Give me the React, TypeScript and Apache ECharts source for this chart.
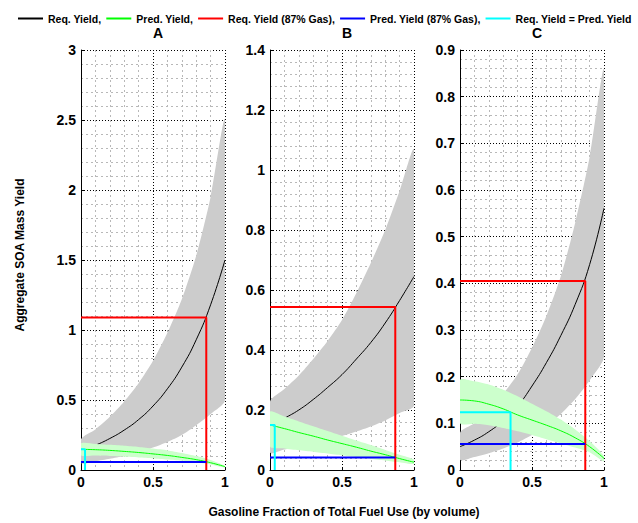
import React, { useEffect, useRef } from "react";
import * as echarts from "echarts";

// Gasoline fraction of total fuel use (x values of every curve)
const fraction = [0, 0.1, 0.2, 0.3, 0.4, 0.5, 0.6, 0.7, 0.8, 0.9, 1.0];

// Panel A
const reqA = [0.14, 0.177, 0.225, 0.285, 0.36, 0.457, 0.58, 0.735, 0.93, 1.18, 1.5];
const reqHiA = [0.22, 0.29, 0.38, 0.49, 0.62, 0.78, 0.98, 1.22, 1.53, 1.95, 2.5];
const reqLoA = [0.05, 0.063, 0.08, 0.1, 0.125, 0.16, 0.2, 0.25, 0.32, 0.4, 0.5];
const predA = [0.148, 0.145, 0.14, 0.133, 0.125, 0.115, 0.104, 0.09, 0.074, 0.052, 0.024];
const predHiA = [0.19, 0.186, 0.18, 0.173, 0.165, 0.153, 0.14, 0.122, 0.1, 0.072, 0.03];
const predLoA = [0.105, 0.103, 0.1, 0.095, 0.09, 0.083, 0.075, 0.066, 0.055, 0.04, 0.018];

// Panel B
const reqB = [0.143, 0.172, 0.2, 0.235, 0.275, 0.318, 0.37, 0.425, 0.49, 0.565, 0.645];
const reqHiB = [0.228, 0.27, 0.315, 0.37, 0.43, 0.5, 0.59, 0.69, 0.8, 0.93, 1.067];
const reqLoB = [0.058, 0.068, 0.078, 0.088, 0.1, 0.113, 0.128, 0.145, 0.165, 0.19, 0.215];
const predB = [0.15, 0.138, 0.125, 0.113, 0.1, 0.088, 0.076, 0.063, 0.051, 0.038, 0.026];
const predHiB = [0.194, 0.178, 0.162, 0.146, 0.13, 0.114, 0.098, 0.083, 0.067, 0.051, 0.035];
const predLoB = [0.078, 0.072, 0.066, 0.061, 0.055, 0.049, 0.043, 0.037, 0.032, 0.026, 0.02];

// Panel C
const reqC = [0.05, 0.064, 0.082, 0.106, 0.137, 0.18, 0.23, 0.288, 0.355, 0.44, 0.561];
const reqHiC = [0.08, 0.1, 0.128, 0.163, 0.205, 0.262, 0.33, 0.415, 0.53, 0.67, 0.857];
const reqLoC = [0.022, 0.028, 0.036, 0.046, 0.059, 0.075, 0.095, 0.12, 0.152, 0.192, 0.243];
const predC = [0.15, 0.148, 0.141, 0.131, 0.118, 0.107, 0.096, 0.084, 0.069, 0.05, 0.025];
const predHiC = [0.193, 0.19, 0.183, 0.172, 0.158, 0.142, 0.126, 0.108, 0.087, 0.062, 0.03];
const predLoC = [0.1, 0.099, 0.096, 0.09, 0.083, 0.075, 0.066, 0.057, 0.048, 0.038, 0.018];

// 87% gasoline reference values per panel
const gas87 = 0.87;
const req87 = [1.09, 0.543, 0.405];
const pred87 = [0.058, 0.042, 0.0557];
// Req. Yield = Pred. Yield crossing per panel
const crossX = [0.028, 0.033, 0.351];
const crossY = [0.148, 0.15, 0.124];

// Axis ranges / ticks
const panelTitles = ["A", "B", "C"];
const yMax = [3, 1.4, 0.9];
const yStep = [0.5, 0.2, 0.1];

const legendNames = [
  "Req. Yield,",
  "Pred. Yield,",
  "Req. Yield (87% Gas),",
  "Pred. Yield (87% Gas),",
  "Req. Yield = Pred. Yield",
];

const panels = [
  { req: reqA, reqHi: reqHiA, reqLo: reqLoA, pred: predA, predHi: predHiA, predLo: predLoA },
  { req: reqB, reqHi: reqHiB, reqLo: reqLoB, pred: predB, predHi: predHiB, predLo: predLoB },
  { req: reqC, reqHi: reqHiC, reqLo: reqLoC, pred: predC, predHi: predHiC, predLo: predLoC },
];

const FONT = "'Liberation Sans', Arial, Helvetica, sans-serif";
const gridLeft = [81, 270, 460];
const gridW = 144;
const gridTop = 50;
const gridH = 420;

function pairs(ys: number[]) {
  return fraction.map((x, i) => [x, ys[i]]);
}

function bandSeries(idx: number, lo: number[], hi: number[], color: string, z: number) {
  return {
    type: "custom",
    xAxisIndex: idx,
    yAxisIndex: idx,
    data: fraction.map((x, i) => [x, lo[i], hi[i]]),
    encode: { x: 0, y: [1, 2] },
    clip: true,
    silent: true,
    z,
    renderItem: (params: any, api: any) => {
      if (params.dataIndex !== 0) return null;
      const top = fraction.map((x, i) => api.coord([x, hi[i]]));
      const bottom = fraction.map((x, i) => api.coord([x, lo[i]])).reverse();
      return {
        type: "polygon",
        shape: { points: top.concat(bottom), smooth: 0.25 },
        style: { fill: color, stroke: null },
      };
    },
  };
}

export default function App() {
  const ref = useRef<HTMLDivElement>(null);

  useEffect(() => {
    if (!ref.current) return;
    const chart = echarts.init(ref.current, undefined, { renderer: "svg" });

    const grids = panels.map((_, i) => ({
      left: gridLeft[i],
      top: gridTop,
      width: gridW,
      height: gridH,
    }));

    const xAxes = panels.map((_, i) => ({
      type: "value",
      gridIndex: i,
      min: 0,
      max: 1,
      interval: 0.5,
      axisLine: { show: true, onZero: false, lineStyle: { color: "#000", width: 1 } },
      axisTick: { show: true, inside: true, length: 3, lineStyle: { color: "#000" } },
      axisLabel: {
        color: "#000",
        fontFamily: FONT,
        fontWeight: "bold",
        fontSize: 14,
        margin: 5,
      },
      splitLine: { show: true, lineStyle: { color: "#000", type: [1, 2], width: 1 } },
      minorTick: { show: false, splitNumber: 5 },
      minorSplitLine: { show: true, lineStyle: { color: "#b8b8b8", type: [2, 3], width: 1 } },
    }));

    const yAxes = panels.map((_, i) => ({
      type: "value",
      gridIndex: i,
      min: 0,
      max: yMax[i],
      interval: yStep[i],
      axisLine: { show: true, onZero: false, lineStyle: { color: "#000", width: 1 } },
      axisTick: { show: true, inside: true, length: 3, lineStyle: { color: "#000" } },
      axisLabel: {
        color: "#000",
        fontFamily: FONT,
        fontWeight: "bold",
        fontSize: 14,
        margin: 5,
      },
      splitLine: { show: true, lineStyle: { color: "#000", type: [1, 2], width: 1 } },
      minorTick: { show: false, splitNumber: 5 },
      minorSplitLine: { show: true, lineStyle: { color: "#b8b8b8", type: [2, 3], width: 1 } },
    }));

    const series: any[] = [];
    panels.forEach((p, i) => {
      series.push(bandSeries(i, p.reqLo, p.reqHi, "#cccccc", 1));
      series.push({
        type: "line",
        name: legendNames[0],
        xAxisIndex: i,
        yAxisIndex: i,
        data: pairs(p.req),
        smooth: true,
        symbol: "none",
        color: "#000000",
        lineStyle: { color: "#000000", width: 1 },
        z: 2,
      });
      series.push(bandSeries(i, p.predLo, p.predHi, "#ccffcc", 3));
      series.push({
        type: "line",
        name: legendNames[1],
        xAxisIndex: i,
        yAxisIndex: i,
        data: pairs(p.pred),
        smooth: true,
        symbol: "none",
        color: "#00ff00",
        lineStyle: { color: "#00ff00", width: 1 },
        z: 4,
      });
      series.push({
        type: "line",
        name: legendNames[2],
        xAxisIndex: i,
        yAxisIndex: i,
        data: [
          [0, req87[i]],
          [gas87, req87[i]],
          [gas87, 0],
        ],
        symbol: "none",
        color: "#ff0000",
        lineStyle: { color: "#ff0000", width: 2 },
        z: 5,
      });
      series.push({
        type: "line",
        name: legendNames[3],
        xAxisIndex: i,
        yAxisIndex: i,
        data: [
          [0, pred87[i]],
          [gas87, pred87[i]],
        ],
        symbol: "none",
        color: "#0000ff",
        lineStyle: { color: "#0000ff", width: 2 },
        z: 5,
      });
      series.push({
        type: "line",
        name: legendNames[4],
        xAxisIndex: i,
        yAxisIndex: i,
        data: [
          [0, crossY[i]],
          [crossX[i], crossY[i]],
          [crossX[i], 0],
        ],
        symbol: "none",
        color: "#00ffff",
        lineStyle: { color: "#00ffff", width: 2 },
        z: 5,
      });
    });

    chart.setOption({
      animation: false,
      backgroundColor: "#ffffff",
      title: panelTitles.map((t, i) => ({
        text: t,
        left: gridLeft[i] + gridW / 2,
        top: 21,
        textAlign: "center",
        textStyle: { fontFamily: FONT, fontWeight: "bold", fontSize: 14, color: "#000" },
      })),
      legend: {
        data: legendNames,
        left: 18,
        top: 13,
        width: 630,
        padding: 0,
        icon: "rect",
        itemWidth: 25,
        itemHeight: 2,
        itemGap: 5,
        selectedMode: false,
        textStyle: { fontFamily: FONT, fontWeight: "bold", fontSize: 10.5, color: "#000" },
      },
      grid: grids,
      xAxis: xAxes,
      yAxis: yAxes,
      series,
      graphic: [
        {
          type: "text",
          x: 20,
          y: 255,
          rotation: Math.PI / 2,
          style: {
            text: "Aggregate SOA Mass Yield",
            fontFamily: FONT,
            fontWeight: "bold",
            fontSize: 12,
            fill: "#000",
            align: "center",
            verticalAlign: "middle",
          },
        },
        {
          type: "text",
          x: 344,
          y: 512,
          style: {
            text: "Gasoline Fraction of Total Fuel Use (by volume)",
            fontFamily: FONT,
            fontWeight: "bold",
            fontSize: 12,
            fill: "#000",
            align: "center",
            verticalAlign: "middle",
          },
        },
      ],
    });

    return () => chart.dispose();
  }, []);

  return (
    <div
      ref={ref}
      style={{ position: "fixed", left: 0, top: 0, width: 638, height: 523, background: "#fff" }}
    />
  );
}
